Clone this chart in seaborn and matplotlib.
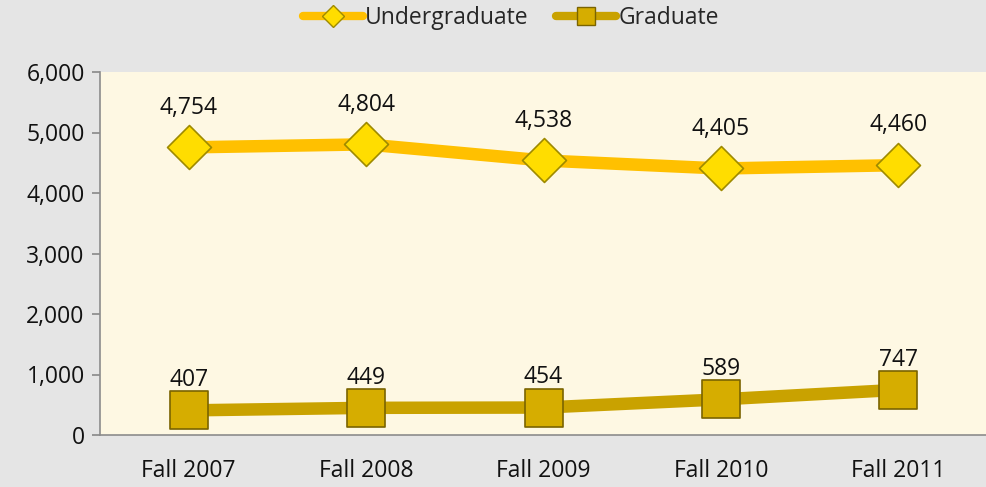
import matplotlib
matplotlib.use("Agg")
import matplotlib.pyplot as plt
import seaborn as sns
import pandas as pd
from matplotlib.lines import Line2D

categories = ["Fall 2007", "Fall 2008", "Fall 2009", "Fall 2010", "Fall 2011"]
undergrad = [4754, 4804, 4538, 4405, 4460]
graduate = [407, 449, 454, 589, 747]

df = pd.DataFrame({"term": categories * 2,
                   "value": undergrad + graduate,
                   "level": ["Undergraduate"] * 5 + ["Graduate"] * 5})

sns.set_theme(style="white")
plt.rcParams['font.family'] = ['Open Sans', 'DejaVu Sans']
FS = 16.5

fig = plt.figure(figsize=(9.87, 4.87), dpi=100)
fig.patch.set_facecolor("#E5E5E5")
ax = fig.add_axes([100/987, 1-435/487, 887/987, (435-72)/487])
ax.set_facecolor("#FEF8E3")

ug_line = "#FFC000"
gr_line = "#C9A200"
palette = {"Undergraduate": ug_line, "Graduate": gr_line}
sns.lineplot(data=df, x="term", y="value", hue="level", palette=palette,
             linewidth=9, ax=ax, legend=False, sort=False)

x = list(range(len(categories)))
ax.scatter(x, undergrad, marker="D", s=500, color="#FFDD00",
           edgecolors="#9E8A00", linewidths=1.2, zorder=5)
ax.scatter(x, graduate, marker="s", s=760, color="#D6AD00",
           edgecolors="#7A6400", linewidths=1.2, zorder=5)

for i, v in enumerate(undergrad):
    ax.annotate(f"{v:,}", (i, v), xytext=(0, 20), textcoords="offset points",
                ha="center", va="bottom", fontsize=FS, color="#111111")
for i, v in enumerate(graduate):
    ax.annotate(f"{v:,}", (i, v), xytext=(0, 13), textcoords="offset points",
                ha="center", va="bottom", fontsize=FS, color="#111111")

ax.set_xlim(-0.5, 4.5)
ax.set_ylim(0, 6000)
ax.set_yticks(range(0, 6001, 1000))
ax.set_yticklabels([f"{t:,}" for t in range(0, 6001, 1000)])
ax.set_xlabel("")
ax.set_ylabel("")
for s in ["top", "right"]:
    ax.spines[s].set_visible(False)
for s in ["left", "bottom"]:
    ax.spines[s].set_color("#8C8C8C")
    ax.spines[s].set_linewidth(1.2)
ax.tick_params(axis="y", left=True, length=6, color="#8C8C8C", labelsize=FS,
               labelcolor="#111111", pad=5)
ax.tick_params(axis="x", bottom=False, labelsize=FS, labelcolor="#111111", pad=11)

handles = [Line2D([0], [0], color=ug_line, lw=6, marker="D", markersize=11,
                  markerfacecolor="#FFDD00", markeredgecolor="#9E8A00"),
           Line2D([0], [0], color=gr_line, lw=6, marker="s", markersize=13,
                  markerfacecolor="#D6AD00", markeredgecolor="#7A6400")]
fig.legend(handles, ["Undergraduate", "Graduate"], loc="center",
           bbox_to_anchor=(511/987, 1-18/487), ncol=2, frameon=False,
           fontsize=FS, handlelength=2.6, handletextpad=0.1, columnspacing=1.2)

fig.savefig("out.png", dpi=100, facecolor=fig.get_facecolor())
